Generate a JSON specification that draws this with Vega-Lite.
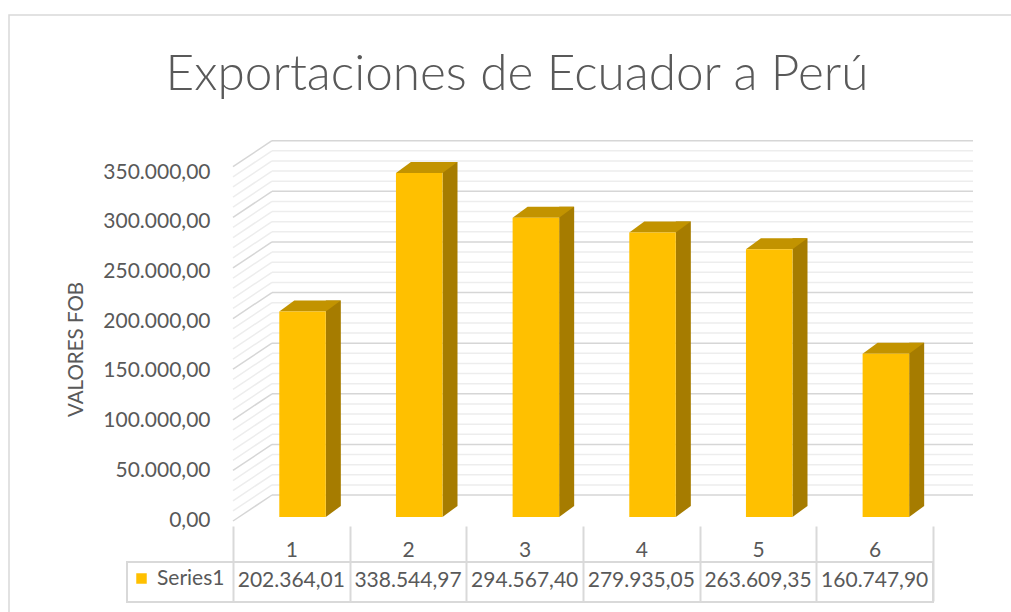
{
  "$schema": "https://vega.github.io/schema/vega-lite/v6.json",
  "autosize": {"type": "none"},
  "padding": {"left": 9, "top": 15, "right": 0, "bottom": 0},
  "width": 1010,
  "height": 600,
  "background": "#ffffff",
  "config": {
    "locale": {"number": {"decimal": ",", "thousands": ".", "grouping": [3], "currency": ["", ""]}},
    "view": {"stroke": "#d9d9d9", "strokeWidth": 1.5},
    "font": "Lato"
  },
  "title": {
    "text": "Exportaciones de Ecuador a Perú",
    "font": "Lato",
    "fontSize": 49.5,
    "fontWeight": 300,
    "color": "#595959",
    "anchor": "middle",
    "baseline": "alphabetic",
    "offset": -75,
    "dx": 3,
    "dy": 49
  },
  "datasets": {
    "bars": [
      {"cat": "1", "value": 202364.01},
      {"cat": "2", "value": 338544.97},
      {"cat": "3", "value": 294567.40},
      {"cat": "4", "value": 279935.05},
      {"cat": "5", "value": 263609.35},
      {"cat": "6", "value": 160747.90}
    ],
    "grid": [
      {"v": 0, "kind": "major"}, {"v": 10000, "kind": "minor"}, {"v": 20000, "kind": "minor"}, {"v": 30000, "kind": "minor"}, {"v": 40000, "kind": "minor"},
      {"v": 50000, "kind": "major"}, {"v": 60000, "kind": "minor"}, {"v": 70000, "kind": "minor"}, {"v": 80000, "kind": "minor"}, {"v": 90000, "kind": "minor"},
      {"v": 100000, "kind": "major"}, {"v": 110000, "kind": "minor"}, {"v": 120000, "kind": "minor"}, {"v": 130000, "kind": "minor"}, {"v": 140000, "kind": "minor"},
      {"v": 150000, "kind": "major"}, {"v": 160000, "kind": "minor"}, {"v": 170000, "kind": "minor"}, {"v": 180000, "kind": "minor"}, {"v": 190000, "kind": "minor"},
      {"v": 200000, "kind": "major"}, {"v": 210000, "kind": "minor"}, {"v": 220000, "kind": "minor"}, {"v": 230000, "kind": "minor"}, {"v": 240000, "kind": "minor"},
      {"v": 250000, "kind": "major"}, {"v": 260000, "kind": "minor"}, {"v": 270000, "kind": "minor"}, {"v": 280000, "kind": "minor"}, {"v": 290000, "kind": "minor"},
      {"v": 300000, "kind": "major"}, {"v": 310000, "kind": "minor"}, {"v": 320000, "kind": "minor"}, {"v": 330000, "kind": "minor"}, {"v": 340000, "kind": "minor"},
      {"v": 350000, "kind": "major"}
    ]
  },
  "resolve": {"scale": {"y": "independent", "stroke": "independent", "fill": "independent"}},
  "layer": [
    {
      "data": {"name": "grid"},
      "mark": {"type": "rule", "strokeWidth": 1.5},
      "encoding": {
        "x": {"value": 263},
        "x2": {"value": 964},
        "y": {"field": "v", "type": "quantitative", "scale": {"domain": [0, 350000], "range": [480, 125.7], "nice": false, "zero": false}, "axis": null},
        "stroke": {"field": "kind", "type": "nominal", "scale": {"domain": ["major", "minor"], "range": ["#d6d6d6", "#ededed"]}, "legend": null}
      }
    },
    {
      "data": {"name": "grid"},
      "mark": {"type": "rule", "strokeWidth": 1.5, "yOffset": 26},
      "encoding": {
        "x": {"value": 224},
        "x2": {"value": 263},
        "y": {"field": "v", "type": "quantitative", "scale": {"domain": [0, 350000], "range": [480, 125.7], "nice": false, "zero": false}, "axis": null},
        "y2": {"field": "v"},
        "stroke": {"field": "kind", "type": "nominal", "scale": {"domain": ["major", "minor"], "range": ["#d6d6d6", "#ededed"]}, "legend": null}
      }
    },
    {
      "data": {"name": "grid"},
      "mark": {"type": "rule", "opacity": 0},
      "encoding": {
        "y": {
          "field": "v", "type": "quantitative",
          "scale": {"domain": [0, 350000], "range": [505, 157], "nice": false, "zero": false},
          "axis": {
            "orient": "left",
            "offset": -224,
            "values": [0, 50000, 100000, 150000, 200000, 250000, 300000, 350000],
            "format": ",.2f",
            "grid": false, "ticks": false, "domain": false,
            "labelFont": "Lato", "labelFontSize": 21, "labelColor": "#595959",
            "labelPadding": 23,
            "title": "VALORES FOB",
            "titleFont": "Lato", "titleFontSize": 20.5, "titleFontWeight": "normal", "titleColor": "#595959",
            "titleX": -157, "titleY": 334, "titleAngle": -90, "titleAlign": "center", "titleBaseline": "middle"
          }
        }
      }
    },
    {
      "data": {"name": "bars"},
      "mark": {"type": "bar", "width": 15, "xOffset": 42, "yOffset": -11, "y2Offset": -11, "color": "#a67c00"},
      "encoding": {
        "x": {
          "field": "cat", "type": "ordinal",
          "scale": {"range": [224, 924], "paddingInner": 0, "paddingOuter": 0},
          "axis": {
            "orient": "bottom", "offset": -89,
            "domain": false, "grid": false,
            "ticks": true, "tickBand": "extent", "tickSize": 75, "tickWidth": 2, "tickColor": "#d9d9d9",
            "labelFont": "Lato", "labelFontSize": 21, "labelColor": "#595959", "labelPadding": -62, "labelAngle": 0,
            "title": null
          }
        },
        "y": {"field": "value", "type": "quantitative", "scale": {"domain": [0, 350000], "range": [502, 146.4], "nice": false}, "axis": null}
      }
    },
    {
      "data": {"name": "bars"},
      "mark": {"type": "point", "shape": "M -1 0.74 L 1 -0.74 L -1 -0.74 Z", "size": 225, "filled": true, "opacity": 1, "strokeWidth": 0, "xOffset": 42, "yOffset": -5.5, "color": "#a67c00"},
      "encoding": {
        "x": {"field": "cat", "type": "ordinal"},
        "y": {"datum": 0, "type": "quantitative", "scale": {"domain": [0, 350000], "range": [502, 146.4], "nice": false}, "axis": null}
      }
    },
    {
      "data": {"name": "bars"},
      "mark": {"type": "point", "shape": "M -1 0.179 L 0.512 0.179 L 1 -0.179 L -0.512 -0.179 Z", "size": 3782, "filled": true, "opacity": 1, "strokeWidth": 0, "xOffset": 18.7, "yOffset": -5.5, "color": "#c29300"},
      "encoding": {
        "x": {"field": "cat", "type": "ordinal"},
        "y": {"field": "value", "type": "quantitative", "scale": {"domain": [0, 350000], "range": [502, 146.4], "nice": false}, "axis": null}
      }
    },
    {
      "data": {"name": "bars"},
      "mark": {"type": "bar", "width": 46.5, "xOffset": 11.2},
      "encoding": {
        "x": {"field": "cat", "type": "ordinal"},
        "y": {"field": "value", "type": "quantitative", "scale": {"domain": [0, 350000], "range": [502, 146.4], "nice": false}, "axis": null},
        "fill": {
          "datum": "Series1",
          "scale": {"domain": ["Series1"], "range": ["#ffc000"]},
          "legend": {
            "orient": "none", "legendX": 122, "legendY": 553, "title": null,
            "symbolType": "square", "symbolSize": 110, "symbolStrokeWidth": 0,
            "labelFont": "Lato", "labelFontSize": 21, "labelColor": "#595959", "labelOffset": 5, "padding": 0
          }
        }
      }
    },
    {
      "data": {"name": "bars"},
      "mark": {"type": "text", "font": "Lato", "fontSize": 21, "color": "#595959", "baseline": "middle", "align": "center"},
      "encoding": {
        "x": {"field": "cat", "type": "ordinal"},
        "y": {"value": 566},
        "text": {"field": "value", "type": "quantitative", "format": ",.2f"}
      }
    },
    {
      "data": {"values": [{"row": "Series1"}]},
      "mark": {"type": "rect", "fill": null, "fillOpacity": 0, "stroke": "#d9d9d9", "strokeWidth": 2},
      "encoding": {
        "x": {"value": 118},
        "x2": {"value": 924},
        "y": {"value": 547},
        "y2": {"value": 587}
      }
    }
  ]
}
